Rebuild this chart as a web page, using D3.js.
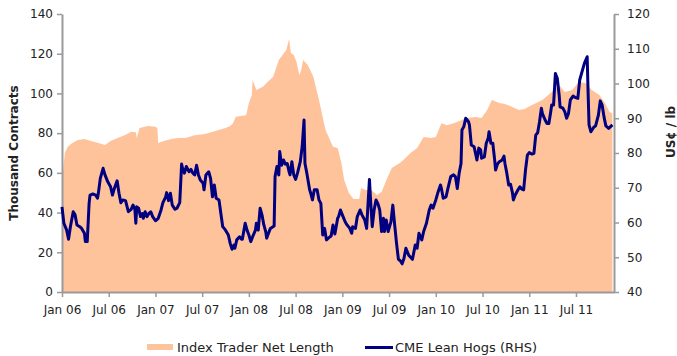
<!DOCTYPE html>
<html>
<head>
<meta charset="utf-8">
<script src="https://cdn.jsdelivr.net/npm/d3@7"></script>
<style>
  body { margin: 0; background: #fff; }
  svg { display: block; }
  text { font-family: "DejaVu Sans", Verdana, sans-serif; }
</style>
</head>
<body>
<svg id="chart" width="677" height="356"></svg>
<script>
// Index trader net length (thousand contracts), time as decimal year
const netLengthTime = [
  2006.00, 2006.03, 2006.06, 2006.11, 2006.17, 2006.24, 2006.31, 2006.39, 2006.46, 2006.52,
  2006.60, 2006.67, 2006.74, 2006.79, 2006.80, 2006.83, 2006.92, 2007.00, 2007.02, 2007.03,
  2007.09, 2007.17, 2007.24, 2007.32, 2007.42, 2007.53, 2007.65, 2007.75, 2007.80, 2007.83,
  2007.86, 2007.97, 2008.00, 2008.03, 2008.04, 2008.08, 2008.15, 2008.20, 2008.26, 2008.32,
  2008.40, 2008.43, 2008.45, 2008.48, 2008.51, 2008.54, 2008.56, 2008.58, 2008.63, 2008.69,
  2008.75, 2008.82, 2008.90, 2008.95, 2008.99, 2009.02, 2009.07, 2009.12, 2009.18, 2009.20,
  2009.25, 2009.31, 2009.37, 2009.42, 2009.48, 2009.53, 2009.63, 2009.73, 2009.80, 2009.87,
  2009.95, 2010.00, 2010.06, 2010.12, 2010.19, 2010.28, 2010.33, 2010.43, 2010.49, 2010.55,
  2010.60, 2010.68, 2010.74, 2010.82, 2010.89, 2010.95, 2011.03, 2011.14, 2011.24, 2011.32,
  2011.38, 2011.46, 2011.53, 2011.60, 2011.67, 2011.75, 2011.81, 2011.86, 2011.89
];
const netLength = [
  55, 70, 73, 75, 76.5, 77, 76, 75, 74, 76,
  77.7, 79, 80.7, 80.5, 77.5, 82.6, 83.6, 83.2, 82.6, 75,
  76, 77, 77.5, 77.5, 79, 79.6, 81.2, 82.6, 83.6, 85,
  88.3, 89, 95.2, 99, 106.8, 101.7, 103.4, 105.8, 108.4, 116.8,
  121.9, 127.4, 120.4, 119.4, 115.8, 109.3, 111.8, 116.8, 114.3, 108.4,
  96.7, 81.6, 73.2, 72.5, 65, 56.4, 49.9, 46.8, 46.8, 52.4,
  51.4, 51.4, 48.8, 50.4, 57.4, 62.4, 65.5, 70, 72.5, 78,
  77.6, 78, 85, 84, 85, 86.6, 87.6, 88.1, 87.6, 91.7,
  96.7, 95.2, 94.7, 93.2, 91.7, 92.2, 94.2, 96.7, 100.7, 104.2,
  100.7, 101.7, 105.8, 105.3, 101.7, 99.2, 95.2, 90.6, 90
];

// CME lean hogs (US cents / lb), time as decimal year
const hogTime = [
  2006.00, 2006.02, 2006.05, 2006.07, 2006.09, 2006.12, 2006.14, 2006.16, 2006.19, 2006.21,
  2006.24, 2006.25, 2006.27, 2006.29, 2006.30, 2006.33, 2006.36, 2006.38, 2006.39, 2006.41,
  2006.44, 2006.46, 2006.49, 2006.52, 2006.54, 2006.56, 2006.59, 2006.61, 2006.63, 2006.65,
  2006.68, 2006.71, 2006.74, 2006.76, 2006.78, 2006.79, 2006.80, 2006.82, 2006.84, 2006.86,
  2006.87, 2006.89, 2006.91, 2006.93, 2006.95, 2006.97, 2007.00, 2007.03, 2007.06, 2007.08,
  2007.11, 2007.12, 2007.14, 2007.16, 2007.18, 2007.21, 2007.23, 2007.26, 2007.28, 2007.29,
  2007.31, 2007.33, 2007.36, 2007.38, 2007.40, 2007.42, 2007.44, 2007.46, 2007.48, 2007.51,
  2007.52, 2007.54, 2007.57, 2007.59, 2007.61, 2007.63, 2007.65, 2007.68, 2007.70, 2007.72,
  2007.75, 2007.78, 2007.80, 2007.82, 2007.84, 2007.85, 2007.87, 2007.90, 2007.92, 2007.93,
  2007.96, 2007.98, 2008.00, 2008.02, 2008.04, 2008.07, 2008.08, 2008.10, 2008.12, 2008.14,
  2008.16, 2008.18, 2008.19, 2008.21, 2008.23, 2008.27, 2008.28, 2008.30, 2008.32, 2008.33,
  2008.35, 2008.37, 2008.39, 2008.41, 2008.43, 2008.44, 2008.46, 2008.48, 2008.50, 2008.52,
  2008.55, 2008.57, 2008.59, 2008.60, 2008.62, 2008.65, 2008.66, 2008.68, 2008.70, 2008.73,
  2008.75, 2008.77, 2008.79, 2008.81, 2008.83, 2008.85, 2008.88, 2008.90, 2008.92, 2008.95,
  2008.96, 2008.98, 2009.00, 2009.03, 2009.05, 2009.08, 2009.10, 2009.11, 2009.14, 2009.16,
  2009.19, 2009.21, 2009.24, 2009.26, 2009.29, 2009.30, 2009.32, 2009.34, 2009.36, 2009.38,
  2009.40, 2009.42, 2009.44, 2009.45, 2009.47, 2009.49, 2009.52, 2009.54, 2009.56, 2009.58,
  2009.60, 2009.62, 2009.64, 2009.66, 2009.68, 2009.71, 2009.75, 2009.78, 2009.80, 2009.82,
  2009.85, 2009.87, 2009.90, 2009.93, 2009.95, 2009.97, 2010.00, 2010.02, 2010.05, 2010.06,
  2010.08, 2010.11, 2010.13, 2010.16, 2010.19, 2010.21, 2010.23, 2010.25, 2010.27, 2010.28,
  2010.30, 2010.32, 2010.35, 2010.36, 2010.38, 2010.41, 2010.44, 2010.46, 2010.48, 2010.49,
  2010.52, 2010.54, 2010.56, 2010.57, 2010.59, 2010.61, 2010.63, 2010.64, 2010.66, 2010.68,
  2010.71, 2010.73, 2010.74, 2010.76, 2010.78, 2010.80, 2010.82, 2010.83, 2010.85, 2010.88,
  2010.90, 2010.92, 2010.94, 2010.96, 2010.98, 2011.00, 2011.03, 2011.05, 2011.07, 2011.09,
  2011.11, 2011.13, 2011.14, 2011.17, 2011.19, 2011.21, 2011.23, 2011.24, 2011.26, 2011.28,
  2011.30, 2011.32, 2011.33, 2011.36, 2011.38, 2011.40, 2011.42, 2011.44, 2011.47, 2011.49,
  2011.52, 2011.54, 2011.56, 2011.59, 2011.62, 2011.63, 2011.64, 2011.66, 2011.69, 2011.71,
  2011.74, 2011.76, 2011.78, 2011.80, 2011.82, 2011.85, 2011.87, 2011.89
];
const hogPrice = [
  64.5, 59.8, 57.8, 55.2, 58.8, 63.1, 62.2, 59.3, 58.8, 58.3,
  56.9, 54.5, 54.5, 65.5, 67.9, 68.2, 67.9, 67, 68.6, 72.7,
  75.6, 73.7, 71.7, 70.3, 67.9, 69.8, 72, 68.4, 65.7, 66.5,
  66.3, 63.1, 63.8, 65, 63.8, 59.8, 64.5, 64.1, 61.7, 62.6,
  61.2, 63.1, 61.7, 62.6, 63.1, 61.7, 60.5, 61.2, 63.6, 65.7,
  67.4, 68.6, 66.3, 68.4, 65, 63.8, 64.1, 65.7, 76.8, 75.6,
  74.2, 76.1, 74.6, 75.3, 74.2, 73.7, 76.5, 73.7, 72.2, 71.3,
  69.4, 73.7, 74.6, 72.7, 67.4, 70.8, 67, 66.5, 62.6, 58.8,
  57.8, 56.4, 54, 52.3, 53.5, 52.6, 55, 55.9, 55.2, 55.2,
  59.8, 57.8, 56.4, 54.5, 55.9, 57.8, 59.8, 57.8, 64.1, 62.2,
  59.3, 57.4, 55.5, 56.9, 58.3, 59, 73.2, 76.1, 73.7, 80.4,
  76.5, 78, 76.8, 77, 74.6, 73.7, 77.5, 73.7, 72.4, 74.2,
  77.5, 81.8, 89.5, 77, 74.2, 69.4, 68.6, 66.5, 69.4, 69.4,
  66.5, 65.5, 56.4, 58.3, 55, 55.5, 56.1, 59.3, 56.7, 61.2,
  61.7, 63.6, 62.2, 60.2, 59.3, 58.3, 56.9, 58.8, 58.3, 61.7,
  63.6, 62.2, 60.7, 58.3, 72.4, 67.4, 58.8, 63.6, 66.5, 65.5,
  63.6, 57.4, 61.2, 57.4, 60.7, 57.4, 60.2, 65, 59.3, 54,
  49.4, 49, 48.1, 49.7, 52.6, 50.6, 49.4, 53.5, 52.6, 56.9,
  55, 57.4, 59.8, 63.6, 65, 64.1, 66.5, 68.4, 70.8, 69.8,
  67, 67.4, 69.8, 73.2, 73.7, 73.2, 69.8, 74.2, 77, 86.6,
  87.6, 90, 89, 88.1, 82.3, 81.8, 78, 81.4, 80.9, 78.5,
  78.9, 82.8, 84.2, 86.1, 82.8, 82.8, 78, 75.1, 76.8, 77.5,
  78, 79.1, 77, 74.2, 70.8, 71, 68.6, 66.5, 67.9, 69.4,
  70.3, 69.6, 69.4, 75.1, 79.4, 80.1, 79.7, 79.9, 85.2, 85.8,
  89, 92.9, 91.4, 89.5, 88.5, 88.5, 91.9, 93.8, 93.8, 102.9,
  101.5, 96.7, 93.3, 92.9, 91.9, 90, 91.4, 95.3, 96.4, 96,
  95.7, 101, 102.9, 105.8, 107.7, 97.2, 88.1, 86.1, 87.4, 87.8,
  90.9, 95, 93.8, 90.4, 87.8, 87.1, 87.6, 88.1
];

const xTickValues = [2006, 2006.5, 2007, 2007.5, 2008, 2008.5, 2009, 2009.5, 2010, 2010.5, 2011, 2011.5];
const xTickLabels = ["Jan 06", "Jul 06", "Jan 07", "Jul 07", "Jan 08", "Jul 08",
                     "Jan 09", "Jul 09", "Jan 10", "Jul 10", "Jan 11", "Jul 11"];
const leftTicks = [0, 20, 40, 60, 80, 100, 120, 140];
const rightTicks = [40, 50, 60, 70, 80, 90, 100, 110, 120];

const seriesNames = ["Index Trader Net Length", "CME Lean Hogs (RHS)"];
const leftTitle = "Thousand Contracts";
const rightTitle = "US\u00a2 / lb";

const AREA_COLOR = "#ffc39b";
const LINE_COLOR = "#000080";
const AXIS_COLOR = "#9a9a9a";
const TEXT_COLOR = "#222";

const svg = d3.select("#chart");
const plot = { left: 62, right: 614, top: 14, bottom: 292 };

const x = d3.scaleLinear().domain([2006, 2011.907]).range([plot.left, plot.right]);
const yLeft = d3.scaleLinear().domain([0, 140]).range([plot.bottom, plot.top]);
const yRight = d3.scaleLinear().domain([40, 120]).range([plot.bottom, plot.top]);

const areaData = netLengthTime.map((t, i) => ({ t, v: netLength[i] }));
const lineData = hogTime.map((t, i) => ({ t, v: hogPrice[i] }));

// Net length area (left axis)
svg.append("path")
  .datum(areaData)
  .attr("fill", AREA_COLOR)
  .attr("d", d3.area().x(d => x(d.t)).y0(yLeft(0)).y1(d => yLeft(d.v)));

// Axes
function styleAxis(g) {
  g.select(".domain").attr("stroke", AXIS_COLOR).attr("stroke-width", 2);
  g.selectAll(".tick line").attr("stroke", AXIS_COLOR).attr("stroke-width", 1.5);
  g.selectAll(".tick text").attr("fill", TEXT_COLOR).style("font-size", "12px");
}

svg.append("g")
  .attr("transform", `translate(${plot.left},0)`)
  .call(d3.axisLeft(yLeft).tickValues(leftTicks).tickSize(5).tickSizeOuter(0).tickPadding(4))
  .call(styleAxis);

svg.append("g")
  .attr("transform", `translate(${plot.right},0)`)
  .call(d3.axisRight(yRight).tickValues(rightTicks).tickSize(5).tickSizeOuter(0).tickPadding(8))
  .call(styleAxis);

svg.append("g")
  .attr("transform", `translate(0,${plot.bottom})`)
  .call(d3.axisBottom(x).tickValues(xTickValues).tickFormat((d, i) => xTickLabels[i])
        .tickSize(5).tickSizeOuter(0).tickPadding(8))
  .call(styleAxis);

// Lean hogs line (right axis)
svg.append("path")
  .datum(lineData)
  .attr("fill", "none")
  .attr("stroke", LINE_COLOR)
  .attr("stroke-width", 3)
  .attr("stroke-linejoin", "round")
  .attr("d", d3.line().x(d => x(d.t)).y(d => yRight(d.v)));

// Axis titles
svg.append("text")
  .attr("transform", `translate(18,${(plot.top + plot.bottom) / 2}) rotate(-90)`)
  .attr("text-anchor", "middle")
  .attr("fill", TEXT_COLOR)
  .style("font-size", "12px").style("font-weight", "bold")
  .text(leftTitle);

svg.append("text")
  .attr("transform", `translate(675,132) rotate(-90)`)
  .attr("text-anchor", "middle")
  .attr("fill", TEXT_COLOR)
  .style("font-size", "12px").style("font-weight", "bold")
  .text(rightTitle);

// Legend
const legend = svg.append("g").style("font-size", "13px");
legend.append("rect").attr("x", 147).attr("y", 344).attr("width", 26).attr("height", 6).attr("fill", AREA_COLOR);
legend.append("text").attr("x", 177).attr("y", 352).attr("fill", TEXT_COLOR).text(seriesNames[0]);
legend.append("line").attr("x1", 365).attr("x2", 393).attr("y1", 347.5).attr("y2", 347.5)
  .attr("stroke", LINE_COLOR).attr("stroke-width", 3);
legend.append("text").attr("x", 395).attr("y", 352).attr("fill", TEXT_COLOR).text(seriesNames[1]);
</script>
</body>
</html>
